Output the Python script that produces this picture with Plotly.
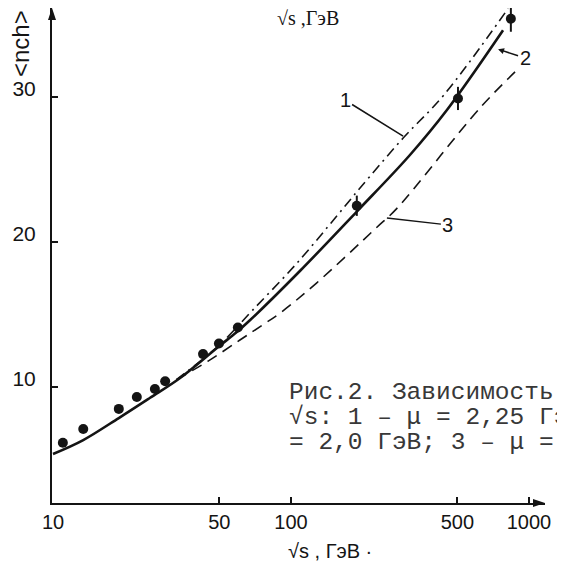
import plotly.graph_objects as go

# experimental points
data_x = [11.0, 13.4, 18.9, 22.5, 26.8, 29.6, 42.7, 49.8, 59.8, 189, 503, 839]
data_y = [6.15, 7.1, 8.49, 9.31, 9.86, 10.4, 12.27, 13.0, 14.1, 22.5, 29.9, 35.4]
data_err = [0, 0, 0, 0, 0, 0, 0, 0, 0, 0.7, 0.8, 0.9]

# curve 2 (solid)
c2_x = [10, 13.4, 18.9, 25.5, 34.2, 49.4, 59.2, 67.2, 109, 189, 316, 452, 778]
c2_y = [5.38, 6.34, 7.86, 9.24, 10.62, 12.76, 13.79, 14.6, 18.0, 22.1, 26.0, 29.1, 34.6]

# curve 1 (dash-dot)
c1_x = [33, 50, 69, 106, 157, 195, 296, 437, 817]
c1_y = [10.5, 12.9, 15.3, 18.55, 21.86, 23.72, 27.17, 30.1, 36.1]

# curve 3 (dashed)
c3_x = [33, 45, 61, 76, 90, 128, 229, 278, 622, 890]
c3_y = [10.5, 11.8, 13.24, 14.28, 15.1, 17.17, 21.0, 22.3, 29.24, 31.86]

x_ticks = [10, 50, 100, 500, 1000]
x_ticktext = ["10", "50", "100", "500", "1000"]
y_ticks = [10, 20, 30]
y_ticktext = ["10", "20", "30"]

# page body has an 8px margin: figure is sized so that it fits the window
OFF = 8
W, H = 565 - OFF, 572 - OFF
L, R, T, B = 44, 20, 0, 69
PW, PH = W - L - R, H - T - B
Y0 = 2.0
Y1 = Y0 + PH / 14.5


def px(xs):  # screen x -> paper
    return (xs - OFF - L) / PW


def py(ys):  # screen y -> paper
    return (H - B - (ys - OFF)) / PH


fig = go.Figure()
ink = "#141414"

fig.add_trace(go.Scatter(x=c1_x, y=c1_y, mode="lines",
                         line=dict(color=ink, width=1.6, dash="10px,5px,2px,5px", shape="spline"),
                         showlegend=False))
fig.add_trace(go.Scatter(x=c3_x, y=c3_y, mode="lines",
                         line=dict(color=ink, width=1.6, dash="11px,7px", shape="spline"),
                         showlegend=False))
fig.add_trace(go.Scatter(x=c2_x, y=c2_y, mode="lines",
                         line=dict(color=ink, width=2.6, shape="spline"),
                         showlegend=False))
fig.add_trace(go.Scatter(x=data_x, y=data_y, mode="markers",
                         marker=dict(color=ink, size=10),
                         error_y=dict(type="data", array=data_err, color=ink, thickness=2, width=0),
                         showlegend=False, cliponaxis=False))

fig.update_xaxes(type="log", range=[1 - 1 / 238, 3 + 16 / 238],
                 tickvals=x_ticks, ticktext=x_ticktext, automargin=False,
                 showline=True, linecolor=ink, linewidth=2,
                 ticks="inside", ticklen=6, tickwidth=2, tickcolor=ink,
                 showgrid=False, zeroline=False,
                 tickfont=dict(family="Liberation Sans", size=20, color=ink),
                 ticklabelstandoff=0)
fig.update_yaxes(range=[Y0, Y1],
                 tickvals=y_ticks, ticktext=y_ticktext, automargin=False,
                 showline=True, linecolor=ink, linewidth=2,
                 ticks="inside", ticklen=6, tickwidth=2, tickcolor=ink,
                 showgrid=False, zeroline=False,
                 tickfont=dict(family="Liberation Sans", size=21, color=ink),
                 ticklabelstandoff=10, ticklabelshift=-8)

ann = []
# y axis title
ann.append(dict(xref="paper", yref="paper", x=px(20), y=py(44), text="&lt;nch&gt;",
                xanchor="center", yanchor="middle",
                textangle=-90, showarrow=False,
                font=dict(family="Liberation Sans", size=24, color=ink)))
# top label
ann.append(dict(xref="paper", yref="paper", x=px(308), y=py(18), text="√s ,ГэВ",
                xanchor="center", yanchor="middle",
                showarrow=False, font=dict(family="Liberation Serif", size=20, color=ink)))
# bottom x title
ann.append(dict(xref="paper", yref="paper", x=px(330), y=py(551), text="√s , ГэВ ·",
                xanchor="center", yanchor="middle",
                showarrow=False, font=dict(family="Liberation Sans", size=20, color=ink)))
# curve labels
ann.append(dict(x=2.471, y=27.3, xref="x", yref="y", ax=-58, ay=-36, text="1",
                showarrow=True, arrowhead=0, arrowwidth=1.5, arrowcolor=ink,
                font=dict(family="Liberation Sans", size=20, color=ink)))
ann.append(dict(x=2.870, y=33.3, xref="x", yref="y", ax=27, ay=9, text="2",
                showarrow=True, arrowhead=2, arrowsize=0.8, arrowwidth=1.5, arrowcolor=ink,
                font=dict(family="Liberation Sans", size=20, color=ink)))
ann.append(dict(x=2.403, y=21.66, xref="x", yref="y", ax=61, ay=7, text="3",
                showarrow=True, arrowhead=0, arrowwidth=1.5, arrowcolor=ink,
                font=dict(family="Liberation Sans", size=20, color=ink)))
# caption
cap = ["Рис.2. Зависимость", "√s: 1 – μ = 2,25 Гэ", "= 2,0 ГэВ; 3 – μ ="]
cap_y = [392, 417, 442]
for t, yy in zip(cap, cap_y):
    ann.append(dict(xref="paper", yref="paper", x=px(287), y=py(yy), text=t,
                    xanchor="left", yanchor="middle", showarrow=False,
                    font=dict(family="Liberation Mono", size=24.5, color="#383838")))

# axis arrowheads (paper coordinates)
shapes = [
    dict(type="path", xref="paper", yref="paper", line=dict(width=0), fillcolor=ink,
         path=f"M 1,0 L {1 - 12 / PW},{4 / PH} L {1 - 12 / PW},{-4 / PH} Z"),
    dict(type="path", xref="paper", yref="paper", line=dict(width=0), fillcolor=ink,
         path=f"M 0,1 L {-4 / PW},{1 - 12 / PH} L {4 / PW},{1 - 12 / PH} Z"),
]

fig.update_layout(width=W, height=H, margin=dict(l=L, r=R, t=T, b=B),
                  paper_bgcolor="white", plot_bgcolor="white",
                  annotations=ann, shapes=shapes)

fig.write_html("out.html")
